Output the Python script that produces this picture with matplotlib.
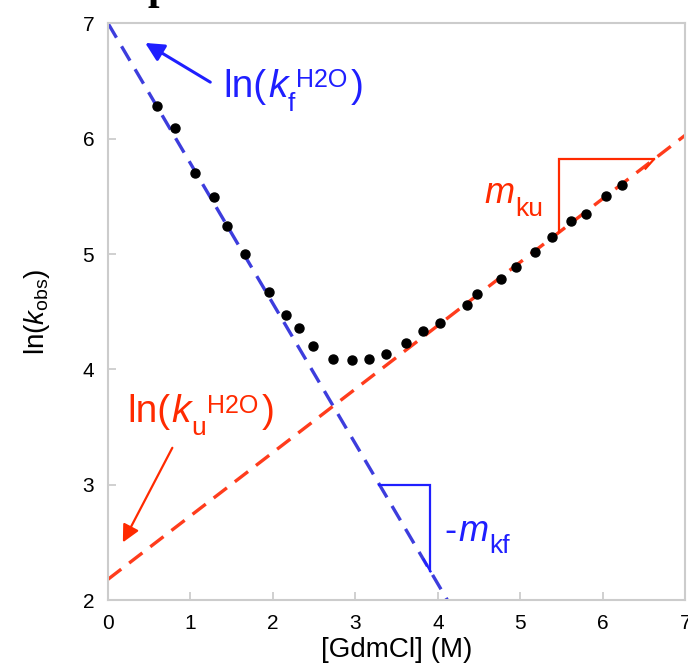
#
# Chevron plot: ln(kobs) vs [GdmCl]
#
import matplotlib
matplotlib.use('Agg')
import matplotlib.pyplot as plt
from matplotlib.font_manager import FontProperties
import numpy as np

plt.rcParams['font.family'] = ['Liberation Sans', 'DejaVu Sans']
plt.rcParams['mathtext.fontset'] = 'custom'
plt.rcParams['mathtext.rm'] = 'Liberation Sans'
plt.rcParams['mathtext.it'] = 'Liberation Sans:italic'
plt.rcParams['mathtext.sf'] = 'Liberation Sans'

# Measured rate constants
gdmcl = [0.60, 0.81, 1.05, 1.28, 1.44, 1.66, 1.95, 2.16, 2.32, 2.49, 2.73, 2.96,
         3.16, 3.37, 3.61, 3.82, 4.03, 4.35, 4.48, 4.76, 4.95, 5.18, 5.38, 5.62,
         5.80, 6.04, 6.23]
ln_kobs = [6.28, 6.09, 5.70, 5.49, 5.24, 5.00, 4.67, 4.47, 4.36, 4.20, 4.09, 4.08,
           4.09, 4.13, 4.23, 4.33, 4.40, 4.56, 4.65, 4.78, 4.89, 5.02, 5.15, 5.29,
           5.35, 5.50, 5.60]

# Folding / unfolding arm fits
ln_kf_h2o = 7.0
m_kf = -1.215
ln_ku_h2o = 2.18
m_ku = 0.55

x_ticks = [0, 1, 2, 3, 4, 5, 6, 7]
y_ticks = [2, 3, 4, 5, 6, 7]

blue_line = '#3d3ddd'
blue_txt = '#1f1fff'
red_line = '#ff3c1c'
red_txt = '#ff2a00'

fig = plt.figure(figsize=(6.88, 6.66), dpi=100)
ax = fig.add_axes([0.157, 0.099, 0.839, 0.866])
renderer = fig.canvas.get_renderer()


# Writes a label piece by piece (main text, sub- and superscripts)
def rich_text(x, y, parts, color):
    off = 0.0
    for s, size, style, dy, gap in parts:
        off += gap
        ax.annotate(s, xy=(x, y), xytext=(off, dy), textcoords='offset points',
                    fontsize=size, style=style, color=color,
                    ha='left', va='baseline')
        fp = FontProperties(family='Liberation Sans', size=size, style=style)
        w, h, d = renderer.get_text_width_height_descent(s, fp, ismath=False)
        off += w * 72 / fig.dpi


xx = np.array([0, 7])
ax.plot(xx, ln_kf_h2o + m_kf * xx, color=blue_line, lw=2.4, dashes=(5, 3), zorder=2)
ax.plot(xx, ln_ku_h2o + m_ku * xx, color=red_line, lw=2.4, dashes=(5, 3), zorder=2)
ax.plot(gdmcl, ln_kobs, 'o', color='black', ms=6.5, zorder=3)

# slope triangle for folding arm
fy = 3.0
fx0 = (fy - ln_kf_h2o) / m_kf
fx1 = 3.91
fy1 = ln_kf_h2o + m_kf * fx1
ax.plot([fx0, fx1, fx1], [fy, fy, fy1], color=blue_txt, lw=1.6, solid_joinstyle='miter')
ax.plot([fx1 - 0.08, fx1], [fy1 + 0.1, fy1], color=blue_txt, lw=1.6)
rich_text(4.08, 2.515, [('-', 26, 'normal', 0, 0), ('m', 26, 'italic', 0, 1),
                        ('kf', 19, 'normal', -9, 1)], blue_txt)

# slope triangle for unfolding arm
ux0 = 5.47
uy0 = ln_ku_h2o + m_ku * ux0
uy = 5.82
ux1 = (uy - ln_ku_h2o) / m_ku
ax.plot([ux0, ux0, ux1], [uy0, uy, uy], color=red_txt, lw=1.6, solid_joinstyle='miter')
ax.plot([ux1 - 0.1, ux1], [uy - 0.08, uy], color=red_txt, lw=1.6)
rich_text(4.56, 5.44, [('m', 26, 'italic', 0, 0), ('ku', 19, 'normal', -9, 1)], red_txt)

# intercept labels
rich_text(1.40, 6.36, [('ln(', 28, 'normal', 0, 0), ('k', 28, 'italic', 0, 1),
                       ('f', 19, 'normal', -10, 0), ('H2O', 18, 'normal', 7, 1),
                       (')', 28, 'normal', 0, 2)], blue_txt)
ax.annotate('', xy=(0.45, 6.83), xytext=(1.24, 6.49),
            arrowprops=dict(arrowstyle='-|>', color=blue_txt, lw=2.2, mutation_scale=28,
                            shrinkA=0, shrinkB=0))
rich_text(0.23, 3.54, [('ln(', 28, 'normal', 0, 0), ('k', 28, 'italic', 0, 1),
                       ('u', 19, 'normal', -9, 0), ('H2O', 18, 'normal', 7, 1),
                       (')', 28, 'normal', 0, 2)], red_txt)
ax.annotate('', xy=(0.18, 2.50), xytext=(0.78, 3.32),
            arrowprops=dict(arrowstyle='-|>', color=red_txt, lw=1.6, mutation_scale=26,
                            shrinkA=0, shrinkB=0))

ax.set_xlim(0, 7)
ax.set_ylim(2, 7)
ax.set_xticks(x_ticks)
ax.set_yticks(y_ticks)
for s in ax.spines.values():
    s.set_color('#cccccc')
    s.set_linewidth(1.5)
ax.tick_params(direction='in', length=6, width=1.2, color='#c8c8c8', labelsize=15,
               pad=10)
ax.set_xlabel('[GdmCl] (M)', fontsize=20, labelpad=3)
ax.set_ylabel(r'ln($k_{\mathregular{obs}}$)', fontsize=20, labelpad=22)

# clipped title fragment at the top edge
fig.text(147 / 688, 1 + 1 / 666, 'p', fontsize=30, fontweight='bold',
         family='Liberation Serif', ha='left', va='baseline')

fig.savefig('out.png', dpi=100)
